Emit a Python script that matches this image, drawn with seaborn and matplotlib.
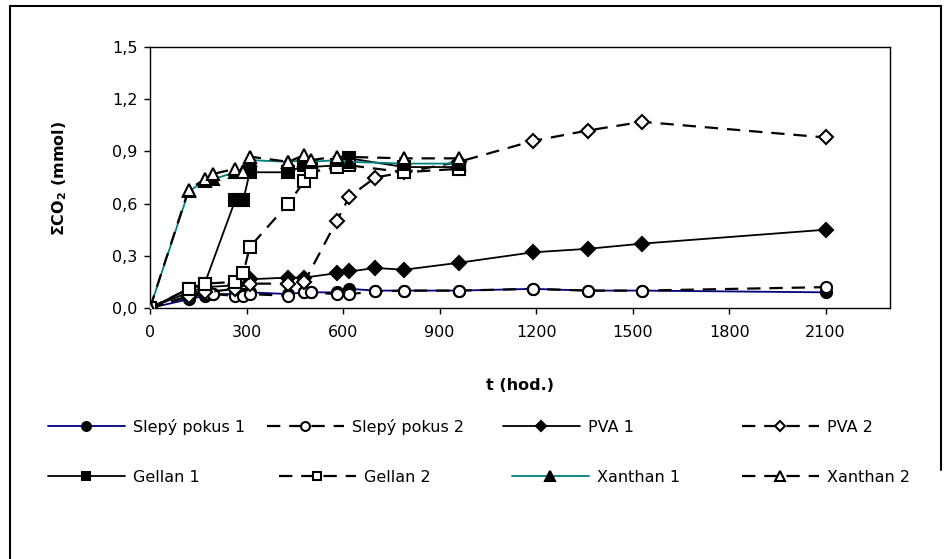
import matplotlib
matplotlib.use("Agg")
import matplotlib.pyplot as plt
import seaborn as sns
import numpy as np
import pandas as pd
from matplotlib.ticker import FuncFormatter
from matplotlib.lines import Line2D

# ---------------- data ----------------
series_names = ["Slepý pokus 1", "Slepý pokus 2", "PVA 1", "PVA 2",
                "Gellan 1", "Gellan 2", "Xanthan 1", "Xanthan 2"]

t_slepy1 = [0, 120, 170, 195, 265, 290, 310, 430, 480, 500, 580, 620, 700, 790, 960, 1190, 1360, 1530, 2100]
v_slepy1 = [0, 0.05, 0.07, 0.08, 0.08, 0.08, 0.09, 0.08, 0.09, 0.09, 0.09, 0.11, 0.10, 0.10, 0.10, 0.11, 0.10, 0.10, 0.09]

t_slepy2 = [0, 120, 170, 195, 265, 290, 310, 430, 480, 500, 580, 620, 700, 790, 960, 1190, 1360, 1530, 2100]
v_slepy2 = [0, 0.065, 0.08, 0.08, 0.07, 0.07, 0.08, 0.07, 0.09, 0.09, 0.08, 0.08, 0.095, 0.10, 0.10, 0.11, 0.10, 0.10, 0.12]

t_pva1 = [0, 120, 170, 265, 310, 430, 480, 580, 620, 700, 790, 960, 1190, 1360, 1530, 2100]
v_pva1 = [0, 0.09, 0.12, 0.13, 0.165, 0.175, 0.175, 0.20, 0.21, 0.23, 0.22, 0.26, 0.32, 0.34, 0.37, 0.45]

t_pva2 = [0, 120, 170, 265, 310, 430, 480, 580, 620, 700, 790, 960, 1190, 1360, 1530, 2100]
v_pva2 = [0, 0.07, 0.09, 0.11, 0.14, 0.14, 0.15, 0.50, 0.64, 0.75, 0.78, 0.84, 0.96, 1.02, 1.07, 0.98]

t_gellan1 = [0, 120, 170, 265, 290, 310, 430, 480, 500, 580, 620, 790, 960]
v_gellan1 = [0, 0.11, 0.14, 0.62, 0.62, 0.78, 0.78, 0.82, 0.81, 0.82, 0.86, 0.81, 0.81]

t_gellan2 = [0, 120, 170, 265, 290, 310, 430, 480, 500, 580, 620, 790, 960]
v_gellan2 = [0, 0.11, 0.14, 0.15, 0.20, 0.35, 0.60, 0.73, 0.78, 0.81, 0.82, 0.78, 0.80]

t_xanthan1 = [0, 120, 170, 195, 265, 290, 310, 430, 480, 500, 580, 620, 790, 960]
v_xanthan1 = [0, 0.67, 0.73, 0.74, 0.78, 0.79, 0.85, 0.84, 0.85, 0.84, 0.85, 0.84, 0.83, 0.83]

t_xanthan2 = [0, 120, 170, 195, 265, 290, 310, 430, 480, 500, 580, 790, 960]
v_xanthan2 = [0, 0.68, 0.74, 0.77, 0.80, 0.78, 0.87, 0.84, 0.88, 0.85, 0.87, 0.86, 0.86]

x_ticks = [0, 300, 600, 900, 1200, 1500, 1800, 2100]
y_ticks = [0.0, 0.3, 0.6, 0.9, 1.2, 1.5]

# ---------------- style ----------------
sns.set_style("ticks")
plt.rcParams["font.family"] = ["DejaVu Sans"]
FS = 11.5
plt.rcParams.update({
    "font.size": FS,
    "text.color": "black",
    "axes.labelcolor": "black",
    "xtick.color": "black",
    "ytick.color": "black",
    "axes.edgecolor": "black",
})

W, H = 950, 559
fig = plt.figure(figsize=(W / 100, H / 100), dpi=100)
L, R, T, B = 150, 890, 47, 308
ax = fig.add_axes([L / W, (H - B) / H, (R - L) / W, (B - T) / H])

DASH = (0, (6, 4))
styles = [
    dict(color="#000080", ls="-", marker="o", mfc="black", lw=1.3),
    dict(color="black", ls=DASH, marker="o", mfc="white", lw=1.6),
    dict(color="black", ls="-", marker="D", mfc="black", lw=1.3),
    dict(color="black", ls=DASH, marker="D", mfc="white", lw=1.6),
    dict(color="black", ls="-", marker="s", mfc="black", lw=1.3),
    dict(color="black", ls=DASH, marker="s", mfc="white", lw=1.6),
    dict(color="#008080", ls="-", marker="^", mfc="black", lw=1.3),
    dict(color="black", ls=DASH, marker="^", mfc="white", lw=1.6),
]
msizes = {"o": 8, "D": 7, "s": 8, "^": 9}

data = [(t_slepy1, v_slepy1), (t_slepy2, v_slepy2), (t_pva1, v_pva1), (t_pva2, v_pva2),
        (t_gellan1, v_gellan1), (t_gellan2, v_gellan2), (t_xanthan1, v_xanthan1),
        (t_xanthan2, v_xanthan2)]

handles = []
for i, (name, (t, v), st) in enumerate(zip(series_names, data, styles)):
    df = pd.DataFrame({"t": t, "v": v})
    n_before = len(ax.lines)
    sns.lineplot(data=df, x="t", y="v", ax=ax, sort=False, estimator=None,
                 color=st["color"], linestyle=st["ls"], linewidth=st["lw"],
                 marker=st["marker"], markersize=msizes[st["marker"]],
                 markerfacecolor=st["mfc"], markeredgecolor="black",
                 markeredgewidth=1.5, zorder=3 + i, legend=False)
    handles.append(ax.lines[n_before])

ax.set_xlim(0, 2300)
ax.set_ylim(0, 1.5)
ax.set_xticks(x_ticks)
ax.set_yticks(y_ticks)
ax.yaxis.set_major_formatter(FuncFormatter(lambda v, p: f"{v:.1f}".replace(".", ",")))
ax.set_xlabel("")
ax.set_ylabel("")
for s in ax.spines.values():
    s.set_visible(True)
    s.set_color("black")
    s.set_linewidth(1.0)
ax.tick_params(direction="out", length=4, width=1.0, colors="black",
               labelcolor="black", labelsize=FS)
ax.tick_params(axis="y", pad=5)
ax.tick_params(axis="x", pad=8)

fig.text(520 / W, 1 - 385 / H, "t (hod.)", ha="center", va="center",
         fontsize=FS, fontweight="bold", color="black")
fig.text(60 / W, 1 - 178 / H, r"ΣCO$_\mathbf{2}$ (mmol)", ha="center", va="center",
         rotation=90, fontsize=FS, fontweight="bold", color="black")

# legend: one entry per legend box, placed like the original
leg_pos = [(48, 427), (267, 427), (503, 427), (742, 427),
           (48, 477), (279, 477), (512, 477), (742, 477)]
for h, name, (px, py) in zip(handles, series_names, leg_pos):
    lg = fig.legend([h], [name], loc="center left",
                    bbox_to_anchor=(px / W, 1 - py / H), frameon=False,
                    handlelength=4.8, handletextpad=0.5, borderpad=0,
                    borderaxespad=0, fontsize=FS, numpoints=1, markerscale=0.8)
    for tx in lg.get_texts():
        tx.set_color("black")

# outer chart border
fig.add_artist(Line2D([10 / W, 10 / W], [1 - 559 / H, 1 - 6 / H], color="black", lw=1.5,
                      transform=fig.transFigure))
fig.add_artist(Line2D([10 / W, 941 / W], [1 - 6 / H, 1 - 6 / H], color="black", lw=1.5,
                      transform=fig.transFigure))
fig.add_artist(Line2D([941 / W, 941 / W], [1 - 6 / H, 1 - 470 / H], color="black", lw=1.5,
                      transform=fig.transFigure))

fig.savefig("out.png", dpi=100)
